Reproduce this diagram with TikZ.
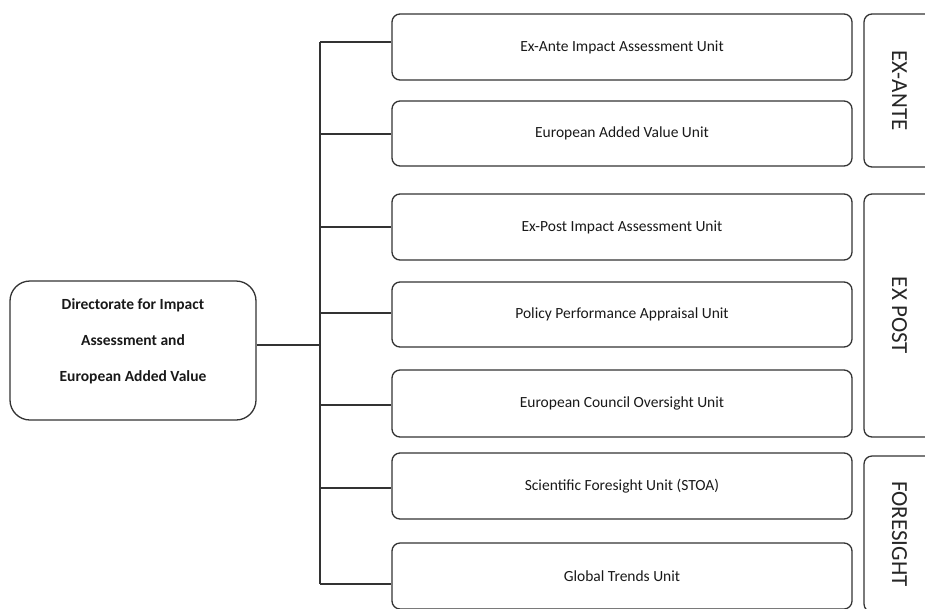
\documentclass[tikz,border=0pt]{standalone}
\usepackage{fontspec}
\setmainfont{Carlito}
\begin{document}
\begin{tikzpicture}[x=1pt,y=-1pt,
  line/.style={draw=black!80, line width=1.3pt},
  unitbox/.style={line, rounded corners=8pt, minimum width=460pt, minimum height=66pt, inner sep=0pt, font=\fontsize{15.5}{18}\selectfont, text=black!90},
  sidebox/.style={line, rounded corners=8pt, minimum height=71pt, inner sep=0pt, rotate=-90, font=\fontsize{23}{26}\selectfont, text=black!85},
  dirbox/.style={line, rounded corners=20pt, minimum width=246pt, minimum height=139pt, inner sep=0pt},
  dirtext/.style={align=center, font=\fontsize{15.5}{36}\selectfont\bfseries, text=black!90}
]
\useasboundingbox (0,0) rectangle (925,608);
\node[dirbox] (dir) at (133,350.5) {};
\node[dirtext] (dirt) at (133,341) {Directorate for Impact\\Assessment and\\European Added Value};

\node[unitbox] (b1) at (622,47) {Ex-Ante Impact Assessment Unit};
\node[unitbox, minimum height=65pt] (b2) at (622,133.5) {European Added Value Unit};
\node[unitbox] (b3) at (622,227) {Ex-Post Impact Assessment Unit};
\node[unitbox, minimum height=65pt] (b4) at (622,314.5) {Policy Performance Appraisal Unit};
\node[unitbox, minimum height=67pt] (b5) at (622,403.5) {European Council Oversight Unit};
\node[unitbox] (b6) at (622,486) {Scientific Foresight Unit (STOA)};
\node[unitbox] (b7) at (622,576) {Global Trends Unit};

\node[sidebox, minimum width=153pt] (s1) at (899.5,90.5) {EX-ANTE};
\node[sidebox, minimum width=243pt] (s2) at (899.5,315.5) {EX POST};
\node[sidebox, minimum width=156pt] (s3) at (899.5,534) {FORESIGHT};

\coordinate (top) at (320,42);
\coordinate (bot) at (320,584);
\coordinate (mid) at (320,345);
\coordinate (j2) at (320,134);
\coordinate (j3) at (320,227);
\coordinate (j4) at (320,313);
\coordinate (j5) at (320,405);
\coordinate (j6) at (320,488);

\draw[line] (top) -- (bot);
\draw[line] (dir.east |- mid) -- (mid);
\draw[line] (top) -- (top -| b1.west);
\draw[line] (j2) -- (j2 -| b2.west);
\draw[line] (j3) -- (j3 -| b3.west);
\draw[line] (j4) -- (j4 -| b4.west);
\draw[line] (j5) -- (j5 -| b5.west);
\draw[line] (j6) -- (j6 -| b6.west);
\draw[line] (bot) -- (bot -| b7.west);
\end{tikzpicture}
\end{document}
